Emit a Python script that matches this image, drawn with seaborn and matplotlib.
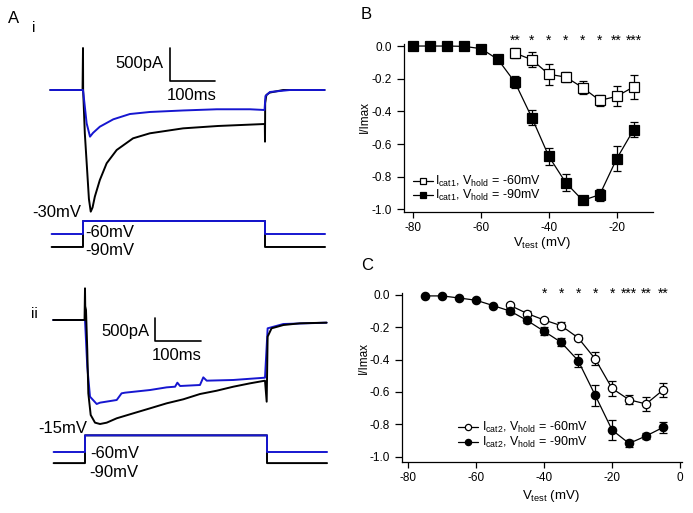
import matplotlib
matplotlib.use('Agg')
import matplotlib.pyplot as plt
import seaborn as sns

W, H = 693, 513
BLUE = '#1616d0'

# ---------- panel A: current traces (ms, pA) ----------
# i: step to -30 mV
ti_black = [-72, -1, 0, 0.3, 4, 9.5, 13, 17, 21, 26, 37, 52, 74, 110, 147, 220, 297,
            399.6, 400, 400.4, 403, 410, 440, 531]
ii_black = [0, 0, 636, 0, -656, -1262, -1650, -1843, -1780, -1616, -1364, -1110, -909,
            -732, -656, -581, -545, -515, -783, -200, -76, -40, 0, 0]
ti_blue = [-72, 0, 4, 8, 15.4, 22, 37, 66.6, 103, 147, 220, 294, 367, 399, 401, 411, 455, 531]
ii_blue = [0, 0, -250, -505, -707, -650, -556, -444, -364, -333, -310, -292, -292, -303,
           -91, -30, 0, 0]

# ii: step to -15 mV
t2_black = [-70, -1, 0, 0.5, 2.2, 5, 7.3, 12.5, 22, 33, 47.7, 69.7, 106, 143, 179.6, 216,
            252.7, 289.5, 326, 362.6, 395.6, 399.3, 401.4, 410, 436, 472.5, 531]
i2_black = [0, 0, 689, 300, 217, -652, -1594, -2065, -2232, -2261, -2232, -2137, -2029,
            -1920, -1811, -1724, -1609, -1537, -1450, -1377, -1319, -1776, -362, -181,
            -109, -72, -58]
t2_blue = [-70, 0, 5, 11, 25.7, 33, 69.7, 80.4, 88, 143, 179.6, 198, 203, 209, 252.7,
           260, 267.5, 326, 395.6, 401.4, 436, 531]
i2_blue = [0, 0, -1015, -1667, -1826, -1797, -1739, -1594, -1580, -1522, -1464, -1450,
           -1363, -1435, -1413, -1247, -1319, -1304, -1254, -181, -87, -58]

# voltage protocols (ms, mV)
tv = [-69, 0, 0.01, 400, 400.01, 532]
v_i_blue = [-60, -60, -30, -30, -60, -60]
v_i_black = [-90, -90, -30, -30, -90, -90]
v_ii_blue = [-60, -60, -15, -15, -60, -60]
v_ii_black = [-90, -90, -15, -15, -90, -90]

# ---------- panel B: Icat1 ----------
vb_60 = [-50, -45, -40, -35, -30, -25, -20, -15]
ib_60 = [-0.043, -0.084, -0.173, -0.19, -0.255, -0.333, -0.308, -0.25]
eb_60 = [0.03, 0.046, 0.066, 0.032, 0.04, 0.033, 0.062, 0.075]
vb_90 = [-80, -75, -70, -65, -60, -55, -50, -45, -40, -35, -30, -25, -20, -15]
ib_90 = [0.0, 0.0, 0.0, -0.002, -0.016, -0.082, -0.222, -0.439, -0.676, -0.837,
         -0.945, -0.91, -0.69, -0.512]
eb_90 = [0, 0, 0, 0, 0, 0, 0.036, 0.046, 0.05, 0.053, 0.01, 0.037, 0.078, 0.045]
stars_b = ['**', '*', '*', '*', '*', '*', '**', '***']

# ---------- panel C: Icat2 ----------
vc_60 = [-50, -45, -40, -35, -30, -25, -20, -15, -10, -5]
ic_60 = [-0.065, -0.115, -0.155, -0.19, -0.265, -0.395, -0.578, -0.648, -0.674, -0.588]
ec_60 = [0.015, 0.015, 0.015, 0.02, 0.015, 0.041, 0.046, 0.028, 0.043, 0.043]
vc_90 = [-75, -70, -65, -60, -55, -50, -45, -40, -35, -30, -25, -20, -15, -10, -5]
ic_90 = [-0.006, -0.006, -0.019, -0.033, -0.066, -0.1, -0.158, -0.225, -0.293, -0.406,
         -0.619, -0.835, -0.918, -0.872, -0.819]
ec_90 = [0, 0, 0, 0, 0, 0.015, 0.015, 0.025, 0.025, 0.04, 0.065, 0.062, 0.02, 0.02, 0.036]
stars_c = ['*', '*', '*', '*', '*', '***', '**', '**']

sns.set_style('ticks')
plt.rcParams['font.family'] = ['Liberation Sans', 'DejaVu Sans']
plt.rcParams['axes.unicode_minus'] = False
plt.rcParams['mathtext.default'] = 'regular'
plt.rcParams['text.color'] = 'black'
plt.rcParams['axes.labelcolor'] = 'black'

fig = plt.figure(figsize=(W / 100, H / 100), dpi=100)


def box(x0, y0, x1, y1):
    return [x0 / W, 1 - y1 / H, (x1 - x0) / W, (y1 - y0) / H]


def label(x, y, s, size=12, **kw):
    fig.text(x / W, 1 - y / H, s, fontsize=size, color='black', **kw)


def line(ax, x, y, color, lw=1.4):
    sns.lineplot(x=x, y=y, ax=ax, color=color, lw=lw, estimator=None, sort=False,
                 legend=False)


def trace_axes(b, xlim, ylim):
    ax = fig.add_axes(box(*b))
    ax.set_xlim(xlim)
    ax.set_ylim(ylim)
    ax.axis('off')
    return ax


# ---- A i
ax = trace_axes((40, 40, 330, 225), ((40 - 83) / 0.455, (330 - 83) / 0.455),
                ((90 - 225) * 15.15, (90 - 40) * 15.15))
line(ax, ti_black, ii_black, 'black')
line(ax, ti_blue, ii_blue, BLUE)
sb_t, sb_i = 191, 136
ax.plot([sb_t, sb_t, sb_t + 100], [sb_i + 500, sb_i, sb_i], color='black', lw=1.2)

ax = trace_axes((40, 200, 330, 262), ((40 - 83) / 0.455, (330 - 83) / 0.455),
                (-60 - (262 - 234) / 0.433, -60 - (200 - 234) / 0.433))
line(ax, tv, v_i_black, 'black')
line(ax, tv, v_i_blue, BLUE)

# ---- A ii
ax = trace_axes((40, 270, 330, 440), ((40 - 85) / 0.455, (330 - 85) / 0.455),
                ((320 - 440) * 21.74, (320 - 270) * 21.74))
line(ax, t2_blue, i2_blue, BLUE)
line(ax, t2_black, i2_black, 'black')
sb_t, sb_i = 154, -456
ax.plot([sb_t, sb_t, sb_t + 100], [sb_i + 500, sb_i, sb_i], color='black', lw=1.2)

ax = trace_axes((40, 420, 330, 485), ((40 - 85) / 0.455, (330 - 85) / 0.455),
                (-60 - (485 - 452) / 0.37, -60 - (420 - 452) / 0.37))
line(ax, tv, v_ii_black, 'black')
line(ax, tv, v_ii_blue, BLUE)

label(8, 23.3, 'A')
label(32, 32, 'i', size=11)
label(31.5, 317.7, 'ii', size=11)
label(163.3, 68.3, '500pA', ha='right')
label(166.7, 100, '100ms')
label(81.7, 216.7, '-30mV', ha='right')
label(85, 237.3, '-60mV')
label(85, 255, '-90mV')
label(150, 336, '500pA', ha='right')
label(151.7, 360, '100ms')
label(87.3, 432.7, '-15mV', ha='right')
label(90, 458.3, '-60mV')
label(89, 476.7, '-90mV')
label(361, 19, 'B')
label(361, 270, 'C')


def iv_panel(ax, xo, yo, eo, xf, yf, ef, marker, ms, sub):
    ax.errorbar(xo, yo, yerr=eo, fmt='none', ecolor='black', elinewidth=0.9,
                capsize=2.8, capthick=0.9, zorder=2)
    ax.errorbar(xf, yf, yerr=ef, fmt='none', ecolor='black', elinewidth=0.9,
                capsize=2.8, capthick=0.9, zorder=2)
    sns.lineplot(x=xo, y=yo, ax=ax, color='black', lw=0.9, marker=marker,
                 markersize=ms, markerfacecolor='white', markeredgecolor='black',
                 markeredgewidth=0.9, estimator=None, clip_on=False, zorder=3,
                 label=r'$I_{%s}$, $V_{hold}$ = -60mV' % sub)
    sns.lineplot(x=xf, y=yf, ax=ax, color='black', lw=0.9, marker=marker,
                 markersize=ms, markerfacecolor='black', markeredgecolor='black',
                 markeredgewidth=0.9, estimator=None, clip_on=False, zorder=3,
                 label=r'$I_{%s}$, $V_{hold}$ = -90mV' % sub)
    sns.despine(ax=ax)
    for s in ['left', 'bottom']:
        ax.spines[s].set_linewidth(0.9)
        ax.spines[s].set_color('black')
    ax.tick_params(axis='y', direction='out', length=5, width=0.9, pad=3.5,
                   labelsize=8.5, colors='black')
    ax.tick_params(axis='x', direction='out', length=4, width=0.9, pad=3.5,
                   labelsize=8.5, colors='black')
    yt = [0.0, -0.2, -0.4, -0.6, -0.8, -1.0]
    ax.set_yticks(yt)
    ax.set_yticklabels(['%.1f' % v for v in yt])
    ax.set_xlabel('')
    ax.set_ylabel('')


# ---- B
axb = fig.add_axes(box(404, 44.4, 653, 212))
iv_panel(axb, vb_60, ib_60, eb_60, vb_90, ib_90, eb_90, 's', 6.5, 'cat1')
axb.set_xlim(-82.7, -9.3)
axb.set_ylim(-1.016, 0.01)
axb.set_xticks([-80, -60, -40, -20])
axb.set_xticklabels(['-80', '-60', '-40', '-20'])
for v, s in zip(vb_60, stars_b):
    axb.text(v, 0.008, s, ha='center', va='baseline', fontsize=10, clip_on=False)
axb.legend(loc='center left', bbox_to_anchor=(413 / W, 1 - 188.5 / H),
           bbox_transform=fig.transFigure, frameon=False, fontsize=9, borderpad=0,
           borderaxespad=0, handlelength=1.6, handletextpad=0.2, labelspacing=-0.1,
           markerscale=0.75)

# ---- C
axc = fig.add_axes(box(401.7, 293, 681.7, 461.7))
iv_panel(axc, vc_60, ic_60, ec_60, vc_90, ic_90, ec_90, 'o', 6, 'cat2')
axc.set_xlim(-81.95, 0.5)
axc.set_ylim(-1.031, 0.012)
axc.set_xticks([-80, -60, -40, -20, 0])
axc.set_xticklabels(['-80', '-60', '-40', '-20', '0'])
for v, s in zip(vc_60[2:], stars_c):
    axc.text(v, -0.019, s, ha='center', va='baseline', fontsize=10, clip_on=False)
axc.legend(loc='center left', bbox_to_anchor=(458 / W, 1 - 435.3 / H),
           bbox_transform=fig.transFigure, frameon=False, fontsize=9, borderpad=0,
           borderaxespad=0, handlelength=1.6, handletextpad=0.3, labelspacing=0.0,
           markerscale=0.75)

# axis titles
label(541.7, 246, r'$V_{test}$ (mV)', size=9.5, ha='center')
label(551, 499, r'$V_{test}$ (mV)', size=9.5, ha='center')
label(365, 117, 'I/Imax', size=8.5, rotation=90, ha='center', va='center')
label(364, 358, 'I/Imax', size=8.5, rotation=90, ha='center', va='center')

fig.savefig('out.png', dpi=100)
